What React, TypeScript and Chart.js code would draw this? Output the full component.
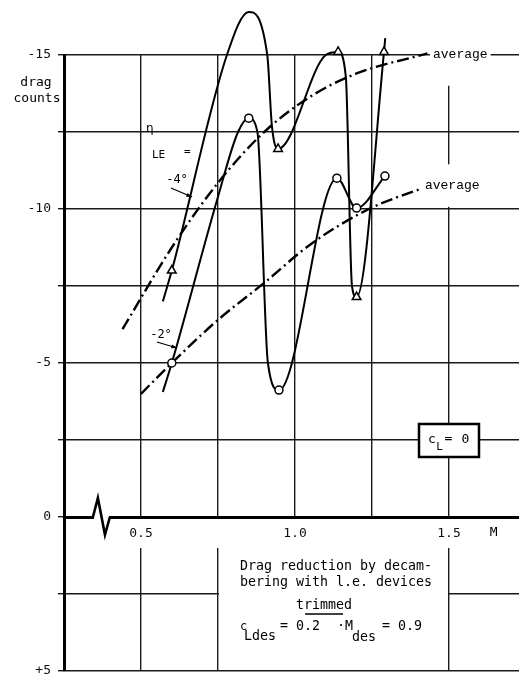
import React, { useEffect, useRef } from 'react';
import { Chart, registerables } from 'chart.js';

Chart.register(...registerables);

// Measured points (markers) — Mach number vs drag counts
const machNeg4 = [0.6, 0.85, 0.945, 1.14, 1.2, 1.289];
const dragNeg4 = [-8.0, -16.4, -11.95, -15.1, -7.14, -15.1];
const machNeg2 = [0.6, 0.85, 0.948, 1.136, 1.2, 1.292];
const dragNeg2 = [-5.0, -12.95, -4.12, -11.0, -10.03, -11.07];

// Faired curves as traced on the reference
const pathNeg4Mach = [0.571, 0.6, 0.779, 0.85, 0.91, 0.925, 0.945, 1.1, 1.14, 1.165, 1.185, 1.2, 1.289, 1.293];
const pathNeg4Drag = [-7.0, -8.0, -15.0, -16.4, -15.0, -12.7, -11.95, -15.0, -15.1, -14.3, -7.5, -7.14, -15.1, -15.55];
const pathNeg2Mach = [0.571, 0.6, 0.75, 0.815, 0.85, 0.878, 0.912, 0.948, 1.136, 1.2, 1.292];
const pathNeg2Drag = [-4.06, -5.0, -10.4, -12.5, -12.95, -12.5, -5.0, -4.12, -11.0, -10.03, -11.07];

// Average (dash-dot) lines
const avgNeg4Mach = [0.44, 0.6, 0.75, 0.9, 1.05, 1.2, 1.43];
const avgNeg4Drag = [-6.1, -8.75, -10.85, -12.5, -13.65, -14.4, -15.05];
const avgNeg2Mach = [0.5, 0.6, 0.75, 0.9, 1.05, 1.24, 1.42];
const avgNeg2Drag = [-4.0, -5.0, -6.4, -7.6, -8.85, -10.0, -10.7];

// Tick labels
const xLabelTicks = [0.5, 1.0, 1.5];
const yLabelTicks = [-15, -10, -5, 0, 5];

const MONO = '"DejaVu Sans Mono", monospace';
const COUR = '"Liberation Mono", monospace';

const toPts = (xs: number[], ys: number[]) => xs.map((m, i) => ({ x: m, y: ys[i] }));

function arrow(ctx: CanvasRenderingContext2D, x1: number, y1: number, x2: number, y2: number) {
  ctx.beginPath();
  ctx.moveTo(x1, y1);
  ctx.lineTo(x2, y2);
  ctx.lineWidth = 1.3;
  ctx.stroke();
  const a = Math.atan2(y2 - y1, x2 - x1);
  ctx.beginPath();
  ctx.moveTo(x2, y2);
  ctx.lineTo(x2 - 6 * Math.cos(a - 0.35), y2 - 6 * Math.sin(a - 0.35));
  ctx.lineTo(x2 - 6 * Math.cos(a + 0.35), y2 - 6 * Math.sin(a + 0.35));
  ctx.closePath();
  ctx.fill();
}

const decor = {
  id: 'decor',
  beforeDatasetsDraw(chart: any) {
    const { ctx, chartArea: a, scales } = chart;
    const x = scales.x, y = scales.y;
    const y0 = y.getPixelForValue(0);
    const yb = y.getPixelForValue(5);
    ctx.save();
    ctx.fillStyle = '#fff';
    // band under the zero line for tick labels
    ctx.fillRect(a.left + 2, y0 + 2, a.right - a.left, 29);
    // text box region
    const bx1 = x.getPixelForValue(0.75), bx2 = x.getPixelForValue(1.5);
    ctx.fillRect(bx1 + 1, y0 + 2, bx2 - bx1 - 2, yb - y0 - 3);
    // gaps in the M=1.5 grid line
    ctx.fillRect(bx2 - 2, y.getPixelForValue(-15) + 1.5, 4, y.getPixelForValue(-14) - y.getPixelForValue(-15) - 1.5);
    ctx.fillRect(bx2 - 2, y.getPixelForValue(-11.45), 4, y.getPixelForValue(-10.07) - y.getPixelForValue(-11.45));
    // axis break symbol
    const b1 = x.getPixelForValue(0.344), b2 = x.getPixelForValue(0.36), b3 = x.getPixelForValue(0.383), b4 = x.getPixelForValue(0.399);
    ctx.fillRect(b1 + 1, y0 - 3, b4 - b1 - 2, 6);
    ctx.beginPath();
    ctx.moveTo(b1, y0);
    ctx.lineTo(b2, y.getPixelForValue(-0.62));
    ctx.lineTo(b3, y.getPixelForValue(0.58));
    ctx.lineTo(b4, y0);
    ctx.strokeStyle = '#000';
    ctx.lineWidth = 2.6;
    ctx.lineJoin = 'miter';
    ctx.stroke();
    ctx.restore();
  },
  afterDraw(chart: any) {
    const { ctx, scales } = chart;
    const x = scales.x, y = scales.y;
    ctx.save();
    ctx.fillStyle = '#000';
    ctx.strokeStyle = '#000';
    ctx.textBaseline = 'middle';

    const bgText = (txt: string, xl: number, yc: number) => {
      ctx.font = `13px ${COUR}`;
      ctx.textAlign = 'left';
      const w = ctx.measureText(txt).width;
      ctx.fillStyle = '#fff';
      ctx.fillRect(xl - 3, yc - 7, w + 6, 14);
      ctx.fillStyle = '#000';
      ctx.fillText(txt, xl, yc);
    };
    bgText('average', x.getPixelForValue(1.448), y.getPixelForValue(-15.0));
    bgText('average', x.getPixelForValue(1.422), y.getPixelForValue(-10.75));

    // y-axis title
    ctx.font = `13px ${MONO}`;
    ctx.textAlign = 'center';
    ctx.fillText('drag', 36, 83);
    ctx.fillText('counts', 37, 99);

    // M label
    ctx.fillText('M', x.getPixelForValue(1.645), y.getPixelForValue(0) + 16);

    // eta_LE =
    ctx.textAlign = 'left';
    ctx.font = '12px "DejaVu Sans"';
    ctx.fillText('η', 146, 129);
    ctx.font = `11px ${MONO}`;
    ctx.fillText('LE', 152, 155);
    ctx.fillText('=', 184, 152);

    // -4° and -2° with arrows
    ctx.font = `12px ${MONO}`;
    ctx.textAlign = 'center';
    ctx.fillText('-4°', 177, 180);
    arrow(ctx, 171, 188, 192, 197);
    ctx.fillText('-2°', 161, 335);
    arrow(ctx, 157, 342, 177, 348);

    // c_L = 0 box
    const cx = x.getPixelForValue(1.5), cy = y.getPixelForValue(-2.5);
    ctx.fillStyle = '#fff';
    ctx.fillRect(cx - 30, cy - 16, 60, 33);
    ctx.lineWidth = 2.5;
    ctx.strokeRect(cx - 30, cy - 16, 60, 33);
    ctx.fillStyle = '#000';
    ctx.font = `13px ${MONO}`;
    ctx.fillText('c', cx - 17, cy);
    ctx.font = `11px ${MONO}`;
    ctx.fillText('L', cx - 9.5, cy + 7);
    ctx.font = `13px ${MONO}`;
    ctx.fillText('=', cx - 0.5, cy - 1);
    ctx.fillText('0', cx + 16.5, cy);

    // text box content
    const tx = x.getPixelForValue(0.75) + 22;
    ctx.textAlign = 'left';
    ctx.font = `13.3px ${MONO}`;
    ctx.fillText('Drag reduction by decam-', tx, 567);
    ctx.fillText('bering with l.e. devices', tx, 583);
    ctx.textAlign = 'center';
    ctx.fillText('trimmed', tx + 84, 606);
    ctx.beginPath();
    ctx.moveTo(tx + 65, 614);
    ctx.lineTo(tx + 103, 614);
    ctx.lineWidth = 1.3;
    ctx.stroke();
    ctx.textAlign = 'left';
    ctx.font = `12px ${MONO}`;
    ctx.fillText('c', tx, 627);
    ctx.font = `13.3px ${MONO}`;
    ctx.fillText('Ldes', tx + 4, 637);
    ctx.fillText('= 0.2', tx + 40, 627);
    ctx.fillText('·M', tx + 97, 627);
    ctx.fillText('des', tx + 112, 638);
    ctx.fillText('= 0.9', tx + 142, 627);
    ctx.restore();
  },
};

export default function App() {
  const ref = useRef<HTMLCanvasElement>(null);
  useEffect(() => {
    const lineBase = {
      showLine: true,
      pointRadius: 0,
      borderColor: '#000',
      backgroundColor: '#000',
      cubicInterpolationMode: 'monotone' as const,
      clip: false as const,
      order: 2,
    };
    const chart = new Chart(ref.current!, {
      type: 'scatter',
      data: {
        datasets: [
          {
            label: 'ηLE = -4° (points)',
            data: toPts(machNeg4, dragNeg4),
            showLine: false,
            pointStyle: 'triangle',
            pointRadius: 5,
            pointBackgroundColor: '#fff',
            pointBorderColor: '#000',
            pointBorderWidth: 1.5,
            clip: false,
            order: 0,
          } as any,
          {
            label: 'ηLE = -2° (points)',
            data: toPts(machNeg2, dragNeg2),
            showLine: false,
            pointStyle: 'circle',
            pointRadius: 4,
            pointBackgroundColor: '#fff',
            pointBorderColor: '#000',
            pointBorderWidth: 1.5,
            clip: false,
            order: 0,
          } as any,
          { ...lineBase, label: 'ηLE = -4°', data: toPts(pathNeg4Mach, pathNeg4Drag), borderWidth: 2 } as any,
          { ...lineBase, label: 'ηLE = -2°', data: toPts(pathNeg2Mach, pathNeg2Drag), borderWidth: 2 } as any,
          {
            ...lineBase,
            label: 'average -4°',
            data: toPts(avgNeg4Mach, avgNeg4Drag),
            borderWidth: 2.4,
            borderDash: [12, 4, 2, 4],
          } as any,
          {
            ...lineBase,
            label: 'average -2°',
            data: toPts(avgNeg2Mach, avgNeg2Drag),
            borderWidth: 2.4,
            borderDash: [12, 4, 2, 4],
          } as any,
        ],
      },
      options: {
        responsive: false,
        animation: false,
        events: [],
        layout: { autoPadding: false, padding: { top: 55, bottom: 6, left: 0, right: 0 } },
        plugins: { legend: { display: false }, tooltip: { enabled: false } },
        scales: {
          x: {
            type: 'linear',
            bounds: 'data',
            min: 0.25,
            max: 1.7273,
            position: { y: 0 } as any,
            ticks: {
              stepSize: 0.25,
              includeBounds: false,
              autoSkip: false,
              maxRotation: 0,
              padding: 9,
              z: 1,
              color: '#111',
              font: { family: MONO, size: 13 },
              callback: (v: any) =>
                xLabelTicks.some((t) => Math.abs(t - Number(v)) < 1e-6) ? Number(v).toFixed(1) : '',
            },
            grid: { color: '#1a1a1a', lineWidth: 1.4, drawTicks: false },
            border: { color: '#000', width: 3 },
            afterFit: (s: any) => {
              s.paddingLeft = 0;
              s.paddingRight = 0;
              s.paddingTop = 0;
              s.paddingBottom = 0;
            },
          },
          y: {
            type: 'linear',
            min: -15,
            max: 5,
            reverse: true,
            ticks: {
              stepSize: 2.5,
              autoSkip: false,
              padding: 7,
              color: '#111',
              font: { family: MONO, size: 13 },
              callback: (v: any) => {
                const n = Number(v);
                if (!yLabelTicks.some((t) => Math.abs(t - n) < 1e-6)) return '';
                return n > 0 ? '+' + n : String(n);
              },
            },
            grid: { color: '#1a1a1a', lineWidth: 1.4, tickLength: 6 },
            border: { color: '#000', width: 3 },
            afterFit: (s: any) => {
              s.width = 64;
              s.paddingTop = 0;
              s.paddingBottom = 0;
              s.paddingLeft = 0;
              s.paddingRight = 0;
            },
          },
        },
      },
      plugins: [decor],
    });
    return () => chart.destroy();
  }, []);
  return (
    <canvas
      ref={ref}
      width={519}
      height={677}
      style={{ position: 'fixed', left: 0, top: 0, width: 519, height: 677, background: '#fff' }}
    />
  );
}
